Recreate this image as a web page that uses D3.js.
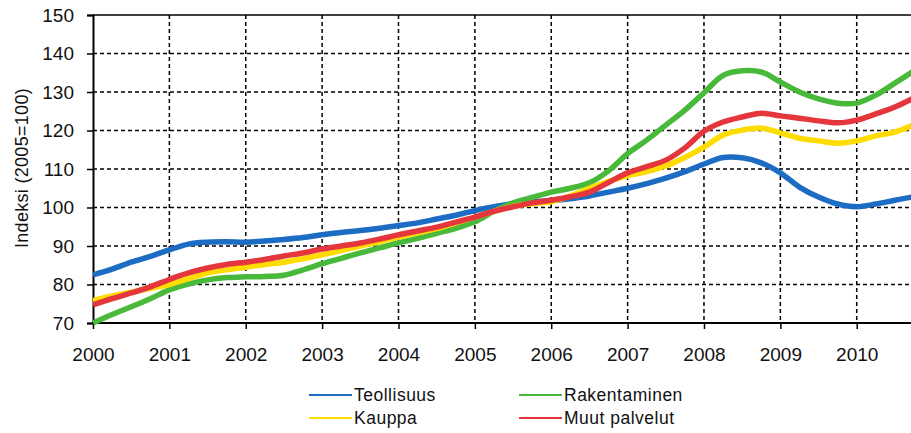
<!DOCTYPE html>
<html>
<head>
<meta charset="utf-8">
<script src="https://cdn.jsdelivr.net/npm/d3@7"></script>
<style>
  body { margin: 0; background: #fff; }
  svg { display: block; font-family: "Liberation Sans", Arial, sans-serif; }
</style>
</head>
<body>
<script>
// quarterly points, 2000.00 .. 2010.75
var years = d3.range(0, 44).map(function(i) { return 2000 + i * 0.25; });

var teollisuus = [
  82.5, 84, 85.8, 87.3, 89, 90.5, 91, 91.1, 91, 91.3, 91.7, 92.2,
  92.9, 93.5, 94, 94.6, 95.3, 96, 97, 98, 99.2, 100.2, 101, 101.5,
  101.8, 102.3, 103, 104, 105, 106.2, 107.6, 109.3, 111.3, 113, 112.9, 111.6,
  109, 105.3, 102.7, 100.9, 100.2, 100.9, 101.9, 102.8
];
var rakentaminen = [
  70, 72.2, 74.2, 76.3, 78.6, 80.1, 81.2, 81.8, 82, 82.1, 82.4, 83.8,
  85.4, 86.8, 88.2, 89.5, 90.8, 92, 93.3, 94.6, 96.3, 99, 101.2, 102.6,
  104, 105, 106.4, 109.5, 114, 117.5, 121.4, 125.3, 129.8, 134.3, 135.5, 135.2,
  132.6, 130, 128.2, 127.1, 127.1, 129.2, 132.3, 135.5
];
var kauppa = [
  75.8, 77, 78, 79, 80, 81.5, 83, 83.8, 84.5, 85.2, 85.8, 86.7,
  87.7, 88.8, 90, 91.1, 92.3, 93.4, 94.5, 96, 97.5, 99, 100.3, 101,
  101.5, 103, 105, 106.8, 108.2, 109.3, 110.8, 113, 115.7, 118.8, 120.1, 120.6,
  119.4, 118, 117.3, 116.7, 117.3, 118.6, 119.6, 121.5
];
var muutPalvelut = [
  74.7, 76.3, 77.8, 79.4, 81.3, 83, 84.3, 85.2, 85.8, 86.5, 87.4, 88.2,
  89.2, 90, 90.8, 91.8, 92.9, 93.9, 94.9, 96.2, 97.5, 99, 100.2, 101.2,
  101.9, 102.8, 104, 106.5, 109, 110.6, 112.3, 115.5, 119.8, 122.2, 123.5, 124.5,
  123.8, 123.2, 122.5, 122, 122.7, 124.3, 126.1, 128.5
];

var yearTicks = d3.range(2000, 2011);
var valueTicks = d3.range(70, 151, 10);

var series = [
  { name: "Teollisuus", values: teollisuus, color: "#1c6cc4" },
  { name: "Rakentaminen", values: rakentaminen, color: "#48b93a" },
  { name: "Kauppa", values: kauppa, color: "#ffdc00" },
  { name: "Muut palvelut", values: muutPalvelut, color: "#e4363c" }
];

var width = 911, height = 433;
var plotLeft = 93, plotTop = 15, plotBottom = 323, plotRight = 914;

var x = d3.scaleLinear().domain([2000, 2010.75]).range([plotLeft, plotRight]);
var y = d3.scaleLinear().domain([70, 150]).range([plotBottom, plotTop]);

var svg = d3.select('body').append('svg')
  .attr('width', width)
  .attr('height', height);

svg.append('defs').append('clipPath').attr('id', 'plot')
  .append('rect')
  .attr('x', plotLeft).attr('y', 0)
  .attr('width', width - plotLeft).attr('height', plotBottom + 4);

// grid
svg.append('g').selectAll('line')
  .data(valueTicks.slice(1, -1))
  .enter().append('line')
  .attr('x1', plotLeft).attr('x2', width)
  .attr('y1', function(d) { return y(d); })
  .attr('y2', function(d) { return y(d); })
  .style('stroke', '#000')
  .style('stroke-width', 1.5)
  .style('stroke-dasharray', '4,3');

svg.append('g').selectAll('line')
  .data(yearTicks.slice(1))
  .enter().append('line')
  .attr('x1', function(d) { return x(d); })
  .attr('x2', function(d) { return x(d); })
  .attr('y1', plotTop).attr('y2', plotBottom)
  .style('stroke', '#000')
  .style('stroke-width', 1.5)
  .style('stroke-dasharray', '4,3');

// top border
svg.append('line')
  .attr('x1', plotLeft).attr('x2', width)
  .attr('y1', plotTop).attr('y2', plotTop)
  .style('stroke', '#000').style('stroke-width', 1.5);

// axes
var yAxis = svg.append('g')
  .attr('transform', 'translate(' + plotLeft + ',0)')
  .call(d3.axisLeft(y).tickValues(valueTicks).tickSize(6).tickPadding(13));
var xAxis = svg.append('g')
  .attr('transform', 'translate(0,' + plotBottom + ')')
  .call(d3.axisBottom(x).tickValues(yearTicks).tickSize(6).tickPadding(19).tickFormat(d3.format('d')));

[yAxis, xAxis].forEach(function(a) {
  a.select('.domain').style('stroke', '#000').style('stroke-width', 2);
  a.selectAll('.tick line').style('stroke', '#000').style('stroke-width', 1.5);
  a.selectAll('.tick text')
    .style('font-family', '"Liberation Sans", Arial, sans-serif')
    .style('font-size', '19px')
    .style('fill', '#111');
});
xAxis.select('.domain').attr('d', 'M' + plotLeft + ',0H' + width);

svg.append('text')
  .text('Indeksi (2005=100)')
  .attr('transform', 'translate(28,168) rotate(-90)')
  .style('text-anchor', 'middle')
  .style('font-size', '18px')
  .style('letter-spacing', '0.3px')
  .style('fill', '#111');

// lines
var line = d3.line()
  .x(function(d, i) { return x(years[i]); })
  .y(function(d) { return y(d); })
  .curve(d3.curveCatmullRom);

svg.append('g')
  .attr('clip-path', 'url(#plot)')
  .selectAll('path')
  .data(series)
  .enter().append('path')
  .attr('d', function(d) { return line(d.values); })
  .style('fill', 'none')
  .style('stroke', function(d) { return d.color; })
  .style('stroke-width', 5.5)
  .style('stroke-linejoin', 'round');

// legend
var legendPos = [
  { x: 309, y: 395 }, { x: 519, y: 395 },
  { x: 309, y: 418 }, { x: 519, y: 418 }
];
var legend = svg.append('g').selectAll('g')
  .data(series)
  .enter().append('g')
  .attr('transform', function(d, i) { return 'translate(' + legendPos[i].x + ',' + legendPos[i].y + ')'; });

legend.append('line')
  .attr('x1', 0).attr('x2', 43)
  .style('stroke', function(d) { return d.color; })
  .style('stroke-width', 2);

legend.append('text')
  .text(function(d) { return d.name; })
  .attr('x', 45)
  .attr('y', 6)
  .style('font-size', '17.5px')
  .style('letter-spacing', '0.5px')
  .style('fill', '#111');
</script>
</body>
</html>
